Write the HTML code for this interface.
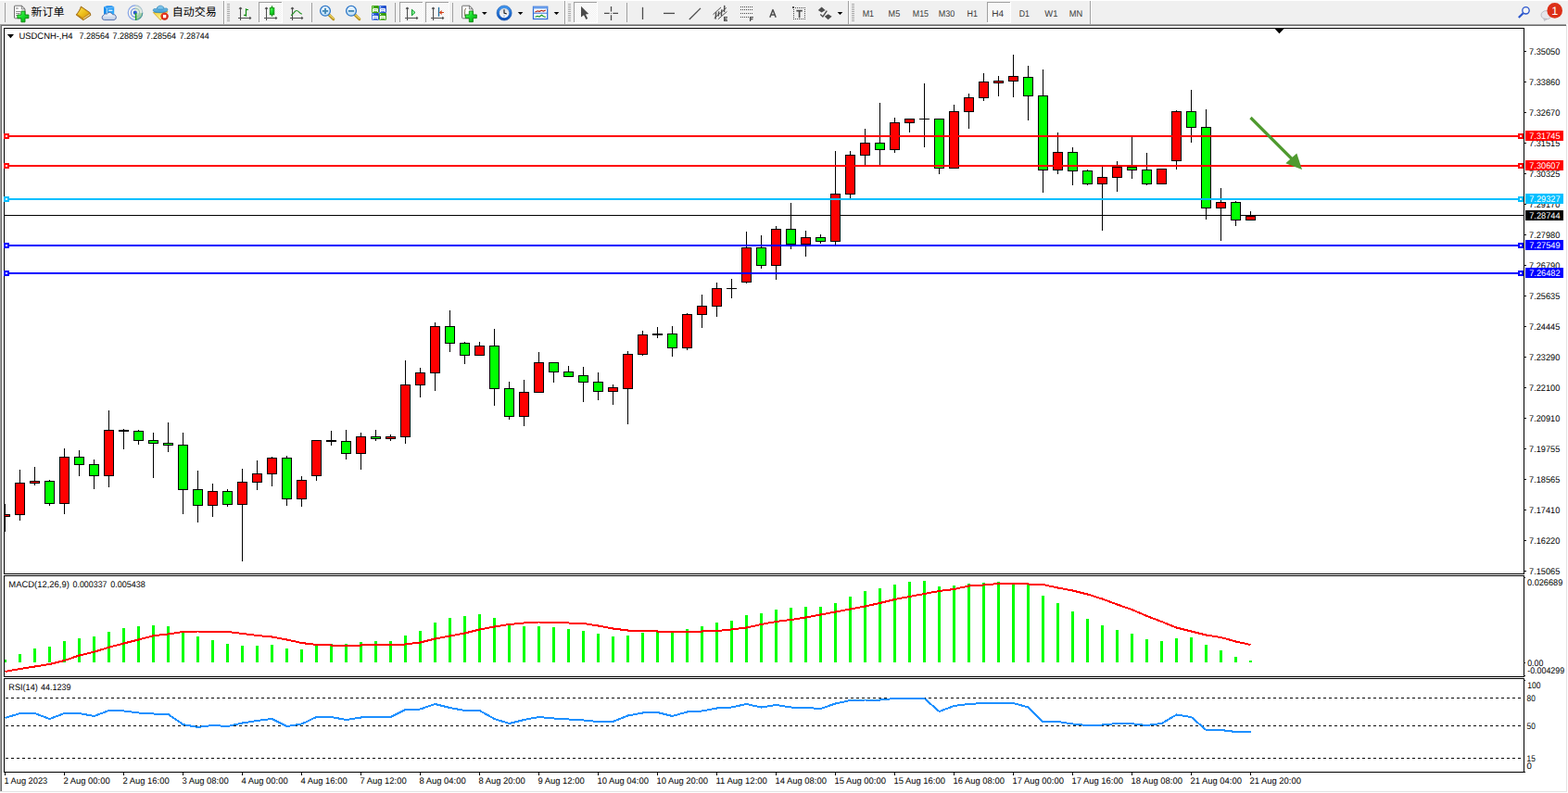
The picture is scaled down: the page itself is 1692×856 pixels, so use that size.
<!DOCTYPE html>
<html><head><meta charset="utf-8"><title>USDCNH H4</title>
<style>html,body{margin:0;padding:0;background:#fff;overflow:hidden}body{width:1692px;height:856px;position:relative}</style></head>
<body>
<svg width="1692" height="856" viewBox="0 0 1692 856" style="position:absolute;left:0;top:0;font-family:'Liberation Sans',sans-serif" shape-rendering="crispEdges" text-rendering="geometricPrecision">
<rect x="0" y="0" width="1692" height="856" fill="#fff"/>
<rect x="0" y="1" width="1692" height="25" fill="#f0f0f0"/>
<rect x="0" y="26" width="1690" height="1" fill="#a0a0a0"/>
<rect x="0" y="27" width="1690" height="1" fill="#696969"/>
<rect x="0" y="27" width="1" height="827" fill="#a0a0a0"/>
<rect x="1" y="28" width="1" height="826" fill="#696969"/>
<rect x="0" y="854" width="1691" height="1" fill="#e3e3e3"/>
<rect x="1690" y="27" width="1" height="828" fill="#e3e3e3"/>
<rect x="4" y="30" width="1641" height="1" fill="#000"/>
<rect x="4" y="30" width="1" height="804" fill="#000"/>
<rect x="1644" y="30" width="1" height="804" fill="#000"/>
<rect x="4" y="619" width="1641" height="1" fill="#000"/>
<rect x="4" y="621" width="1641" height="1" fill="#000"/>
<rect x="4" y="730" width="1641" height="1" fill="#000"/>
<rect x="4" y="732" width="1641" height="1" fill="#000"/>
<rect x="4" y="833" width="1641" height="1" fill="#000"/>
<rect x="4" y="620" width="1641" height="1" fill="#fff"/>
<rect x="4" y="731" width="1641" height="1" fill="#fff"/>
<rect x="5" y="232" width="1639" height="1" fill="#000"/>
<rect x="5" y="544" width="1" height="30" fill="#000"/>
<rect x="5" y="555" width="6" height="3" fill="#000"/>
<rect x="5" y="556" width="5" height="1" fill="#ff0000"/>
<rect x="21" y="507" width="1" height="55" fill="#000"/>
<rect x="16" y="521" width="11" height="35" fill="#000"/>
<rect x="17" y="522" width="9" height="33" fill="#ff0000"/>
<rect x="37" y="504" width="1" height="20" fill="#000"/>
<rect x="32" y="519" width="11" height="3" fill="#000"/>
<rect x="33" y="520" width="9" height="1" fill="#ff0000"/>
<rect x="53" y="518" width="1" height="28" fill="#000"/>
<rect x="48" y="519" width="11" height="25" fill="#000"/>
<rect x="49" y="520" width="9" height="23" fill="#00ff00"/>
<rect x="69" y="484" width="1" height="71" fill="#000"/>
<rect x="64" y="493" width="11" height="51" fill="#000"/>
<rect x="65" y="494" width="9" height="49" fill="#ff0000"/>
<rect x="85" y="486" width="1" height="28" fill="#000"/>
<rect x="80" y="493" width="11" height="9" fill="#000"/>
<rect x="81" y="494" width="9" height="7" fill="#00ff00"/>
<rect x="101" y="496" width="1" height="32" fill="#000"/>
<rect x="96" y="501" width="11" height="13" fill="#000"/>
<rect x="97" y="502" width="9" height="11" fill="#00ff00"/>
<rect x="117" y="443" width="1" height="83" fill="#000"/>
<rect x="112" y="464" width="11" height="50" fill="#000"/>
<rect x="113" y="465" width="9" height="48" fill="#ff0000"/>
<rect x="133" y="463" width="1" height="22" fill="#000"/>
<rect x="128" y="464" width="11" height="2" fill="#000"/>
<rect x="149" y="464" width="1" height="16" fill="#000"/>
<rect x="144" y="465" width="11" height="11" fill="#000"/>
<rect x="145" y="466" width="9" height="9" fill="#00ff00"/>
<rect x="165" y="467" width="1" height="49" fill="#000"/>
<rect x="160" y="475" width="11" height="4" fill="#000"/>
<rect x="161" y="476" width="9" height="2" fill="#00ff00"/>
<rect x="181" y="456" width="1" height="32" fill="#000"/>
<rect x="176" y="478" width="11" height="3" fill="#000"/>
<rect x="177" y="479" width="9" height="1" fill="#00ff00"/>
<rect x="197" y="467" width="1" height="88" fill="#000"/>
<rect x="192" y="480" width="11" height="49" fill="#000"/>
<rect x="193" y="481" width="9" height="47" fill="#00ff00"/>
<rect x="213" y="508" width="1" height="56" fill="#000"/>
<rect x="208" y="528" width="11" height="18" fill="#000"/>
<rect x="209" y="529" width="9" height="16" fill="#00ff00"/>
<rect x="229" y="522" width="1" height="36" fill="#000"/>
<rect x="224" y="530" width="11" height="16" fill="#000"/>
<rect x="225" y="531" width="9" height="14" fill="#ff0000"/>
<rect x="245" y="528" width="1" height="19" fill="#000"/>
<rect x="240" y="530" width="11" height="15" fill="#000"/>
<rect x="241" y="531" width="9" height="13" fill="#00ff00"/>
<rect x="261" y="506" width="1" height="100" fill="#000"/>
<rect x="256" y="520" width="11" height="25" fill="#000"/>
<rect x="257" y="521" width="9" height="23" fill="#ff0000"/>
<rect x="277" y="497" width="1" height="32" fill="#000"/>
<rect x="272" y="511" width="11" height="10" fill="#000"/>
<rect x="273" y="512" width="9" height="8" fill="#ff0000"/>
<rect x="293" y="493" width="1" height="32" fill="#000"/>
<rect x="288" y="494" width="11" height="18" fill="#000"/>
<rect x="289" y="495" width="9" height="16" fill="#ff0000"/>
<rect x="309" y="492" width="1" height="54" fill="#000"/>
<rect x="304" y="494" width="11" height="45" fill="#000"/>
<rect x="305" y="495" width="9" height="43" fill="#00ff00"/>
<rect x="325" y="514" width="1" height="33" fill="#000"/>
<rect x="320" y="518" width="11" height="21" fill="#000"/>
<rect x="321" y="519" width="9" height="19" fill="#ff0000"/>
<rect x="341" y="475" width="1" height="44" fill="#000"/>
<rect x="336" y="475" width="11" height="39" fill="#000"/>
<rect x="337" y="476" width="9" height="37" fill="#ff0000"/>
<rect x="357" y="465" width="1" height="16" fill="#000"/>
<rect x="352" y="475" width="11" height="2" fill="#000"/>
<rect x="373" y="464" width="1" height="32" fill="#000"/>
<rect x="368" y="476" width="11" height="14" fill="#000"/>
<rect x="369" y="477" width="9" height="12" fill="#00ff00"/>
<rect x="389" y="467" width="1" height="40" fill="#000"/>
<rect x="384" y="471" width="11" height="19" fill="#000"/>
<rect x="385" y="472" width="9" height="17" fill="#ff0000"/>
<rect x="405" y="464" width="1" height="12" fill="#000"/>
<rect x="400" y="471" width="11" height="3" fill="#000"/>
<rect x="401" y="472" width="9" height="1" fill="#00ff00"/>
<rect x="421" y="469" width="1" height="7" fill="#000"/>
<rect x="416" y="471" width="11" height="3" fill="#000"/>
<rect x="417" y="472" width="9" height="1" fill="#ff0000"/>
<rect x="437" y="389" width="1" height="90" fill="#000"/>
<rect x="432" y="415" width="11" height="57" fill="#000"/>
<rect x="433" y="416" width="9" height="55" fill="#ff0000"/>
<rect x="453" y="397" width="1" height="32" fill="#000"/>
<rect x="448" y="402" width="11" height="14" fill="#000"/>
<rect x="449" y="403" width="9" height="12" fill="#ff0000"/>
<rect x="469" y="348" width="1" height="74" fill="#000"/>
<rect x="464" y="352" width="11" height="51" fill="#000"/>
<rect x="465" y="353" width="9" height="49" fill="#ff0000"/>
<rect x="485" y="335" width="1" height="45" fill="#000"/>
<rect x="480" y="352" width="11" height="19" fill="#000"/>
<rect x="481" y="353" width="9" height="17" fill="#00ff00"/>
<rect x="501" y="369" width="1" height="24" fill="#000"/>
<rect x="496" y="370" width="11" height="14" fill="#000"/>
<rect x="497" y="371" width="9" height="12" fill="#00ff00"/>
<rect x="517" y="369" width="1" height="15" fill="#000"/>
<rect x="512" y="373" width="11" height="11" fill="#000"/>
<rect x="513" y="374" width="9" height="9" fill="#ff0000"/>
<rect x="533" y="355" width="1" height="83" fill="#000"/>
<rect x="528" y="373" width="11" height="47" fill="#000"/>
<rect x="529" y="374" width="9" height="45" fill="#00ff00"/>
<rect x="549" y="412" width="1" height="41" fill="#000"/>
<rect x="544" y="419" width="11" height="31" fill="#000"/>
<rect x="545" y="420" width="9" height="29" fill="#00ff00"/>
<rect x="565" y="410" width="1" height="50" fill="#000"/>
<rect x="560" y="423" width="11" height="27" fill="#000"/>
<rect x="561" y="424" width="9" height="25" fill="#ff0000"/>
<rect x="581" y="380" width="1" height="44" fill="#000"/>
<rect x="576" y="391" width="11" height="33" fill="#000"/>
<rect x="577" y="392" width="9" height="31" fill="#ff0000"/>
<rect x="597" y="391" width="1" height="22" fill="#000"/>
<rect x="592" y="391" width="11" height="11" fill="#000"/>
<rect x="593" y="392" width="9" height="9" fill="#00ff00"/>
<rect x="613" y="395" width="1" height="12" fill="#000"/>
<rect x="608" y="401" width="11" height="6" fill="#000"/>
<rect x="609" y="402" width="9" height="4" fill="#00ff00"/>
<rect x="629" y="396" width="1" height="38" fill="#000"/>
<rect x="624" y="405" width="11" height="8" fill="#000"/>
<rect x="625" y="406" width="9" height="6" fill="#00ff00"/>
<rect x="645" y="402" width="1" height="30" fill="#000"/>
<rect x="640" y="412" width="11" height="11" fill="#000"/>
<rect x="641" y="413" width="9" height="9" fill="#00ff00"/>
<rect x="661" y="415" width="1" height="22" fill="#000"/>
<rect x="656" y="418" width="11" height="5" fill="#000"/>
<rect x="657" y="419" width="9" height="3" fill="#ff0000"/>
<rect x="677" y="379" width="1" height="79" fill="#000"/>
<rect x="672" y="382" width="11" height="38" fill="#000"/>
<rect x="673" y="383" width="9" height="36" fill="#ff0000"/>
<rect x="693" y="357" width="1" height="27" fill="#000"/>
<rect x="688" y="361" width="11" height="22" fill="#000"/>
<rect x="689" y="362" width="9" height="20" fill="#ff0000"/>
<rect x="709" y="353" width="1" height="12" fill="#000"/>
<rect x="704" y="360" width="11" height="2" fill="#000"/>
<rect x="725" y="352" width="1" height="33" fill="#000"/>
<rect x="720" y="360" width="11" height="16" fill="#000"/>
<rect x="721" y="361" width="9" height="14" fill="#00ff00"/>
<rect x="741" y="338" width="1" height="40" fill="#000"/>
<rect x="736" y="339" width="11" height="37" fill="#000"/>
<rect x="737" y="340" width="9" height="35" fill="#ff0000"/>
<rect x="757" y="318" width="1" height="36" fill="#000"/>
<rect x="752" y="330" width="11" height="10" fill="#000"/>
<rect x="753" y="331" width="9" height="8" fill="#ff0000"/>
<rect x="773" y="305" width="1" height="37" fill="#000"/>
<rect x="768" y="311" width="11" height="20" fill="#000"/>
<rect x="769" y="312" width="9" height="18" fill="#ff0000"/>
<rect x="789" y="301" width="1" height="21" fill="#000"/>
<rect x="784" y="311" width="11" height="1" fill="#000"/>
<rect x="805" y="250" width="1" height="56" fill="#000"/>
<rect x="800" y="267" width="11" height="38" fill="#000"/>
<rect x="801" y="268" width="9" height="36" fill="#ff0000"/>
<rect x="821" y="254" width="1" height="36" fill="#000"/>
<rect x="816" y="267" width="11" height="20" fill="#000"/>
<rect x="817" y="268" width="9" height="18" fill="#00ff00"/>
<rect x="837" y="244" width="1" height="58" fill="#000"/>
<rect x="832" y="247" width="11" height="40" fill="#000"/>
<rect x="833" y="248" width="9" height="38" fill="#ff0000"/>
<rect x="853" y="219" width="1" height="50" fill="#000"/>
<rect x="848" y="247" width="11" height="17" fill="#000"/>
<rect x="849" y="248" width="9" height="15" fill="#00ff00"/>
<rect x="869" y="249" width="1" height="28" fill="#000"/>
<rect x="864" y="256" width="11" height="8" fill="#000"/>
<rect x="865" y="257" width="9" height="6" fill="#ff0000"/>
<rect x="885" y="253" width="1" height="10" fill="#000"/>
<rect x="880" y="256" width="11" height="5" fill="#000"/>
<rect x="881" y="257" width="9" height="3" fill="#00ff00"/>
<rect x="901" y="163" width="1" height="101" fill="#000"/>
<rect x="896" y="209" width="11" height="52" fill="#000"/>
<rect x="897" y="210" width="9" height="50" fill="#ff0000"/>
<rect x="917" y="163" width="1" height="51" fill="#000"/>
<rect x="912" y="167" width="11" height="43" fill="#000"/>
<rect x="913" y="168" width="9" height="41" fill="#ff0000"/>
<rect x="933" y="139" width="1" height="39" fill="#000"/>
<rect x="928" y="154" width="11" height="14" fill="#000"/>
<rect x="929" y="155" width="9" height="12" fill="#ff0000"/>
<rect x="949" y="111" width="1" height="67" fill="#000"/>
<rect x="944" y="154" width="11" height="8" fill="#000"/>
<rect x="945" y="155" width="9" height="6" fill="#00ff00"/>
<rect x="965" y="127" width="1" height="38" fill="#000"/>
<rect x="960" y="132" width="11" height="30" fill="#000"/>
<rect x="961" y="133" width="9" height="28" fill="#ff0000"/>
<rect x="981" y="128" width="1" height="15" fill="#000"/>
<rect x="976" y="128" width="11" height="5" fill="#000"/>
<rect x="977" y="129" width="9" height="3" fill="#ff0000"/>
<rect x="997" y="90" width="1" height="69" fill="#000"/>
<rect x="992" y="128" width="11" height="1" fill="#000"/>
<rect x="1013" y="128" width="1" height="60" fill="#000"/>
<rect x="1008" y="128" width="11" height="54" fill="#000"/>
<rect x="1009" y="129" width="9" height="52" fill="#00ff00"/>
<rect x="1029" y="113" width="1" height="69" fill="#000"/>
<rect x="1024" y="120" width="11" height="62" fill="#000"/>
<rect x="1025" y="121" width="9" height="60" fill="#ff0000"/>
<rect x="1045" y="101" width="1" height="38" fill="#000"/>
<rect x="1040" y="105" width="11" height="16" fill="#000"/>
<rect x="1041" y="106" width="9" height="14" fill="#ff0000"/>
<rect x="1061" y="79" width="1" height="30" fill="#000"/>
<rect x="1056" y="88" width="11" height="18" fill="#000"/>
<rect x="1057" y="89" width="9" height="16" fill="#ff0000"/>
<rect x="1077" y="82" width="1" height="22" fill="#000"/>
<rect x="1072" y="87" width="11" height="3" fill="#000"/>
<rect x="1073" y="88" width="9" height="1" fill="#ff0000"/>
<rect x="1093" y="59" width="1" height="46" fill="#000"/>
<rect x="1088" y="82" width="11" height="6" fill="#000"/>
<rect x="1089" y="83" width="9" height="4" fill="#ff0000"/>
<rect x="1109" y="71" width="1" height="59" fill="#000"/>
<rect x="1104" y="83" width="11" height="21" fill="#000"/>
<rect x="1105" y="84" width="9" height="19" fill="#00ff00"/>
<rect x="1125" y="75" width="1" height="133" fill="#000"/>
<rect x="1120" y="103" width="11" height="81" fill="#000"/>
<rect x="1121" y="104" width="9" height="79" fill="#00ff00"/>
<rect x="1141" y="143" width="1" height="45" fill="#000"/>
<rect x="1136" y="164" width="11" height="20" fill="#000"/>
<rect x="1137" y="165" width="9" height="18" fill="#ff0000"/>
<rect x="1157" y="159" width="1" height="41" fill="#000"/>
<rect x="1152" y="164" width="11" height="21" fill="#000"/>
<rect x="1153" y="165" width="9" height="19" fill="#00ff00"/>
<rect x="1173" y="183" width="1" height="17" fill="#000"/>
<rect x="1168" y="184" width="11" height="15" fill="#000"/>
<rect x="1169" y="185" width="9" height="13" fill="#00ff00"/>
<rect x="1189" y="180" width="1" height="69" fill="#000"/>
<rect x="1184" y="191" width="11" height="8" fill="#000"/>
<rect x="1185" y="192" width="9" height="6" fill="#ff0000"/>
<rect x="1205" y="174" width="1" height="33" fill="#000"/>
<rect x="1200" y="180" width="11" height="12" fill="#000"/>
<rect x="1201" y="181" width="9" height="10" fill="#ff0000"/>
<rect x="1221" y="148" width="1" height="45" fill="#000"/>
<rect x="1216" y="180" width="11" height="4" fill="#000"/>
<rect x="1217" y="181" width="9" height="2" fill="#00ff00"/>
<rect x="1237" y="165" width="1" height="35" fill="#000"/>
<rect x="1232" y="183" width="11" height="16" fill="#000"/>
<rect x="1233" y="184" width="9" height="14" fill="#00ff00"/>
<rect x="1253" y="182" width="1" height="17" fill="#000"/>
<rect x="1248" y="182" width="11" height="17" fill="#000"/>
<rect x="1249" y="183" width="9" height="15" fill="#ff0000"/>
<rect x="1269" y="119" width="1" height="64" fill="#000"/>
<rect x="1264" y="120" width="11" height="54" fill="#000"/>
<rect x="1265" y="121" width="9" height="52" fill="#ff0000"/>
<rect x="1285" y="97" width="1" height="57" fill="#000"/>
<rect x="1280" y="120" width="11" height="18" fill="#000"/>
<rect x="1281" y="121" width="9" height="16" fill="#00ff00"/>
<rect x="1301" y="118" width="1" height="119" fill="#000"/>
<rect x="1296" y="137" width="11" height="88" fill="#000"/>
<rect x="1297" y="138" width="9" height="86" fill="#00ff00"/>
<rect x="1317" y="203" width="1" height="57" fill="#000"/>
<rect x="1312" y="218" width="11" height="7" fill="#000"/>
<rect x="1313" y="219" width="9" height="5" fill="#ff0000"/>
<rect x="1333" y="217" width="1" height="27" fill="#000"/>
<rect x="1328" y="218" width="11" height="20" fill="#000"/>
<rect x="1329" y="219" width="9" height="18" fill="#00ff00"/>
<rect x="1349" y="228" width="1" height="10" fill="#000"/>
<rect x="1344" y="233" width="11" height="5" fill="#000"/>
<rect x="1345" y="234" width="9" height="3" fill="#ff0000"/>
<rect x="1645" y="55" width="2" height="1" fill="#000"/>
<text x="1650.1" y="59" font-size="9.6" fill="#000" textLength="33.2" lengthAdjust="spacingAndGlyphs">7.35050</text>
<rect x="1645" y="88" width="2" height="1" fill="#000"/>
<text x="1650.1" y="92" font-size="9.6" fill="#000" textLength="33.2" lengthAdjust="spacingAndGlyphs">7.33860</text>
<rect x="1645" y="121" width="2" height="1" fill="#000"/>
<text x="1650.1" y="125" font-size="9.6" fill="#000" textLength="33.2" lengthAdjust="spacingAndGlyphs">7.32670</text>
<rect x="1645" y="154" width="2" height="1" fill="#000"/>
<text x="1650.1" y="158" font-size="9.6" fill="#000" textLength="33.2" lengthAdjust="spacingAndGlyphs">7.31515</text>
<rect x="1645" y="187" width="2" height="1" fill="#000"/>
<text x="1650.1" y="191" font-size="9.6" fill="#000" textLength="33.2" lengthAdjust="spacingAndGlyphs">7.30325</text>
<rect x="1645" y="220" width="2" height="1" fill="#000"/>
<text x="1650.1" y="224" font-size="9.6" fill="#000" textLength="33.2" lengthAdjust="spacingAndGlyphs">7.29170</text>
<rect x="1645" y="253" width="2" height="1" fill="#000"/>
<text x="1650.1" y="257" font-size="9.6" fill="#000" textLength="33.2" lengthAdjust="spacingAndGlyphs">7.27980</text>
<rect x="1645" y="286" width="2" height="1" fill="#000"/>
<text x="1650.1" y="290" font-size="9.6" fill="#000" textLength="33.2" lengthAdjust="spacingAndGlyphs">7.26790</text>
<rect x="1645" y="319" width="2" height="1" fill="#000"/>
<text x="1650.1" y="323" font-size="9.6" fill="#000" textLength="33.2" lengthAdjust="spacingAndGlyphs">7.25635</text>
<rect x="1645" y="352" width="2" height="1" fill="#000"/>
<text x="1650.1" y="356" font-size="9.6" fill="#000" textLength="33.2" lengthAdjust="spacingAndGlyphs">7.24445</text>
<rect x="1645" y="385" width="2" height="1" fill="#000"/>
<text x="1650.1" y="389" font-size="9.6" fill="#000" textLength="33.2" lengthAdjust="spacingAndGlyphs">7.23290</text>
<rect x="1645" y="418" width="2" height="1" fill="#000"/>
<text x="1650.1" y="422" font-size="9.6" fill="#000" textLength="33.2" lengthAdjust="spacingAndGlyphs">7.22100</text>
<rect x="1645" y="451" width="2" height="1" fill="#000"/>
<text x="1650.1" y="455" font-size="9.6" fill="#000" textLength="33.2" lengthAdjust="spacingAndGlyphs">7.20910</text>
<rect x="1645" y="484" width="2" height="1" fill="#000"/>
<text x="1650.1" y="488" font-size="9.6" fill="#000" textLength="33.2" lengthAdjust="spacingAndGlyphs">7.19755</text>
<rect x="1645" y="517" width="2" height="1" fill="#000"/>
<text x="1650.1" y="521" font-size="9.6" fill="#000" textLength="33.2" lengthAdjust="spacingAndGlyphs">7.18565</text>
<rect x="1645" y="550" width="2" height="1" fill="#000"/>
<text x="1650.1" y="554" font-size="9.6" fill="#000" textLength="33.2" lengthAdjust="spacingAndGlyphs">7.17410</text>
<rect x="1645" y="583" width="2" height="1" fill="#000"/>
<text x="1650.1" y="587" font-size="9.6" fill="#000" textLength="33.2" lengthAdjust="spacingAndGlyphs">7.16220</text>
<rect x="1645" y="616" width="2" height="1" fill="#000"/>
<text x="1650.1" y="620" font-size="9.6" fill="#000" textLength="33.2" lengthAdjust="spacingAndGlyphs">7.15065</text>
<rect x="5" y="146" width="1634" height="2" fill="#ff0000"/>
<rect x="1638" y="144" width="6" height="6" fill="#ff0000"/>
<rect x="1640" y="146" width="2" height="2" fill="#fff"/>
<rect x="4" y="144" width="6" height="6" fill="#ff0000"/>
<rect x="6" y="146" width="2" height="2" fill="#fff"/>
<rect x="1646" y="141" width="41" height="11" fill="#ff0000"/>
<text x="1650.2" y="150" font-size="9.6" fill="#fff" textLength="33.4" lengthAdjust="spacingAndGlyphs">7.31745</text>
<rect x="5" y="178" width="1634" height="2" fill="#ff0000"/>
<rect x="1638" y="176" width="6" height="6" fill="#ff0000"/>
<rect x="1640" y="178" width="2" height="2" fill="#fff"/>
<rect x="4" y="176" width="6" height="6" fill="#ff0000"/>
<rect x="6" y="178" width="2" height="2" fill="#fff"/>
<rect x="1646" y="173" width="41" height="11" fill="#ff0000"/>
<text x="1650.2" y="182" font-size="9.6" fill="#fff" textLength="33.4" lengthAdjust="spacingAndGlyphs">7.30607</text>
<rect x="5" y="214" width="1634" height="2" fill="#00bfff"/>
<rect x="1638" y="212" width="6" height="6" fill="#00bfff"/>
<rect x="1640" y="214" width="2" height="2" fill="#fff"/>
<rect x="4" y="212" width="6" height="6" fill="#00bfff"/>
<rect x="6" y="214" width="2" height="2" fill="#fff"/>
<rect x="1646" y="209" width="41" height="11" fill="#00bfff"/>
<text x="1650.2" y="218" font-size="9.6" fill="#fff" textLength="33.4" lengthAdjust="spacingAndGlyphs">7.29327</text>
<rect x="5" y="264" width="1634" height="2" fill="#0000ff"/>
<rect x="1638" y="262" width="6" height="6" fill="#0000ff"/>
<rect x="1640" y="264" width="2" height="2" fill="#fff"/>
<rect x="4" y="262" width="6" height="6" fill="#0000ff"/>
<rect x="6" y="264" width="2" height="2" fill="#fff"/>
<rect x="1646" y="259" width="41" height="11" fill="#0000ff"/>
<text x="1650.2" y="268" font-size="9.6" fill="#fff" textLength="33.4" lengthAdjust="spacingAndGlyphs">7.27549</text>
<rect x="5" y="294" width="1634" height="2" fill="#0000ff"/>
<rect x="1638" y="292" width="6" height="6" fill="#0000ff"/>
<rect x="1640" y="294" width="2" height="2" fill="#fff"/>
<rect x="4" y="292" width="6" height="6" fill="#0000ff"/>
<rect x="6" y="294" width="2" height="2" fill="#fff"/>
<rect x="1646" y="289" width="41" height="11" fill="#0000ff"/>
<text x="1650.2" y="298" font-size="9.6" fill="#fff" textLength="33.4" lengthAdjust="spacingAndGlyphs">7.26482</text>
<rect x="1646" y="227" width="41" height="11" fill="#000"/>
<text x="1650.2" y="236" font-size="9.6" fill="#fff" textLength="33.4" lengthAdjust="spacingAndGlyphs">7.28744</text>
<g shape-rendering="geometricPrecision"><line x1="1349.5" y1="127" x2="1394" y2="171.5" stroke="#4f9a2f" stroke-width="3.2"/><polygon points="1405,183 1387.3,176.3 1399.3,165.6" fill="#4f9a2f"/></g>
<polygon points="1375.6,31 1385.5,31 1380.5,36.3" fill="#000" shape-rendering="geometricPrecision"/>
<polygon points="7.8,37 15,37 11.4,41.3" fill="#000" shape-rendering="geometricPrecision"/>
<text x="20.5" y="42" font-size="9.6" fill="#000" textLength="58" lengthAdjust="spacingAndGlyphs">USDCNH-,H4</text>
<text x="85.6" y="42" font-size="9.6" fill="#000" textLength="32.4" lengthAdjust="spacingAndGlyphs">7.28564</text>
<text x="121.5" y="42" font-size="9.6" fill="#000" textLength="32.4" lengthAdjust="spacingAndGlyphs">7.28859</text>
<text x="157.5" y="42" font-size="9.6" fill="#000" textLength="32.4" lengthAdjust="spacingAndGlyphs">7.28564</text>
<text x="193.7" y="42" font-size="9.6" fill="#000" textLength="32" lengthAdjust="spacingAndGlyphs">7.28744</text>
<rect x="5" y="712" width="2" height="3" fill="#00ff00"/>
<rect x="20" y="706" width="3" height="9" fill="#00ff00"/>
<rect x="36" y="700" width="3" height="15" fill="#00ff00"/>
<rect x="52" y="698" width="3" height="17" fill="#00ff00"/>
<rect x="68" y="692" width="3" height="23" fill="#00ff00"/>
<rect x="84" y="689" width="3" height="26" fill="#00ff00"/>
<rect x="100" y="687" width="3" height="28" fill="#00ff00"/>
<rect x="116" y="682" width="3" height="33" fill="#00ff00"/>
<rect x="132" y="678" width="3" height="37" fill="#00ff00"/>
<rect x="148" y="676" width="3" height="39" fill="#00ff00"/>
<rect x="164" y="675" width="3" height="40" fill="#00ff00"/>
<rect x="180" y="676" width="3" height="39" fill="#00ff00"/>
<rect x="196" y="682" width="3" height="33" fill="#00ff00"/>
<rect x="212" y="687" width="3" height="28" fill="#00ff00"/>
<rect x="228" y="691" width="3" height="24" fill="#00ff00"/>
<rect x="244" y="695" width="3" height="20" fill="#00ff00"/>
<rect x="260" y="697" width="3" height="18" fill="#00ff00"/>
<rect x="276" y="697" width="3" height="18" fill="#00ff00"/>
<rect x="292" y="696" width="3" height="19" fill="#00ff00"/>
<rect x="308" y="700" width="3" height="15" fill="#00ff00"/>
<rect x="324" y="701" width="3" height="14" fill="#00ff00"/>
<rect x="340" y="697" width="3" height="18" fill="#00ff00"/>
<rect x="356" y="695" width="3" height="20" fill="#00ff00"/>
<rect x="372" y="695" width="3" height="20" fill="#00ff00"/>
<rect x="388" y="693" width="3" height="22" fill="#00ff00"/>
<rect x="404" y="692" width="3" height="23" fill="#00ff00"/>
<rect x="420" y="692" width="3" height="23" fill="#00ff00"/>
<rect x="436" y="686" width="3" height="29" fill="#00ff00"/>
<rect x="452" y="681" width="3" height="34" fill="#00ff00"/>
<rect x="468" y="672" width="3" height="43" fill="#00ff00"/>
<rect x="484" y="667" width="3" height="48" fill="#00ff00"/>
<rect x="500" y="665" width="3" height="50" fill="#00ff00"/>
<rect x="516" y="663" width="3" height="52" fill="#00ff00"/>
<rect x="532" y="667" width="3" height="48" fill="#00ff00"/>
<rect x="548" y="673" width="3" height="42" fill="#00ff00"/>
<rect x="564" y="676" width="3" height="39" fill="#00ff00"/>
<rect x="580" y="676" width="3" height="39" fill="#00ff00"/>
<rect x="596" y="677" width="3" height="38" fill="#00ff00"/>
<rect x="612" y="679" width="3" height="36" fill="#00ff00"/>
<rect x="628" y="681" width="3" height="34" fill="#00ff00"/>
<rect x="644" y="684" width="3" height="31" fill="#00ff00"/>
<rect x="660" y="687" width="3" height="28" fill="#00ff00"/>
<rect x="676" y="686" width="3" height="29" fill="#00ff00"/>
<rect x="692" y="683" width="3" height="32" fill="#00ff00"/>
<rect x="708" y="682" width="3" height="33" fill="#00ff00"/>
<rect x="724" y="682" width="3" height="33" fill="#00ff00"/>
<rect x="740" y="679" width="3" height="36" fill="#00ff00"/>
<rect x="756" y="676" width="3" height="39" fill="#00ff00"/>
<rect x="772" y="672" width="3" height="43" fill="#00ff00"/>
<rect x="788" y="670" width="3" height="45" fill="#00ff00"/>
<rect x="804" y="664" width="3" height="51" fill="#00ff00"/>
<rect x="820" y="662" width="3" height="53" fill="#00ff00"/>
<rect x="836" y="658" width="3" height="57" fill="#00ff00"/>
<rect x="852" y="656" width="3" height="59" fill="#00ff00"/>
<rect x="868" y="655" width="3" height="60" fill="#00ff00"/>
<rect x="884" y="655" width="3" height="60" fill="#00ff00"/>
<rect x="900" y="651" width="3" height="64" fill="#00ff00"/>
<rect x="916" y="644" width="3" height="71" fill="#00ff00"/>
<rect x="932" y="638" width="3" height="77" fill="#00ff00"/>
<rect x="948" y="635" width="3" height="80" fill="#00ff00"/>
<rect x="964" y="631" width="3" height="84" fill="#00ff00"/>
<rect x="980" y="628" width="3" height="87" fill="#00ff00"/>
<rect x="996" y="627" width="3" height="88" fill="#00ff00"/>
<rect x="1012" y="633" width="3" height="82" fill="#00ff00"/>
<rect x="1028" y="632" width="3" height="83" fill="#00ff00"/>
<rect x="1044" y="630" width="3" height="85" fill="#00ff00"/>
<rect x="1060" y="629" width="3" height="86" fill="#00ff00"/>
<rect x="1076" y="628" width="3" height="87" fill="#00ff00"/>
<rect x="1092" y="630" width="3" height="85" fill="#00ff00"/>
<rect x="1108" y="631" width="3" height="84" fill="#00ff00"/>
<rect x="1124" y="643" width="3" height="72" fill="#00ff00"/>
<rect x="1140" y="651" width="3" height="64" fill="#00ff00"/>
<rect x="1156" y="660" width="3" height="55" fill="#00ff00"/>
<rect x="1172" y="668" width="3" height="47" fill="#00ff00"/>
<rect x="1188" y="675" width="3" height="40" fill="#00ff00"/>
<rect x="1204" y="680" width="3" height="35" fill="#00ff00"/>
<rect x="1220" y="684" width="3" height="31" fill="#00ff00"/>
<rect x="1236" y="690" width="3" height="25" fill="#00ff00"/>
<rect x="1252" y="692" width="3" height="23" fill="#00ff00"/>
<rect x="1268" y="689" width="3" height="26" fill="#00ff00"/>
<rect x="1284" y="688" width="3" height="27" fill="#00ff00"/>
<rect x="1300" y="696" width="3" height="19" fill="#00ff00"/>
<rect x="1316" y="702" width="3" height="13" fill="#00ff00"/>
<rect x="1332" y="709" width="3" height="6" fill="#00ff00"/>
<rect x="1348" y="713" width="3" height="2" fill="#00ff00"/>
<polyline points="5.5,725 21.5,722 37.5,719.5 53.5,717 69.5,713 85.5,707.5 101.5,703.75 117.5,698.75 133.5,694.5 149.5,690.5 165.5,686.25 181.5,684.5 197.5,682 213.5,681.5 229.5,681.5 245.5,682 261.5,684 277.5,686 293.5,687.5 309.5,690.5 325.5,694 341.5,696 357.5,696.5 373.5,696.5 389.5,696.5 405.5,696 421.5,696 437.5,695.5 453.5,693.5 469.5,689.5 485.5,686.5 501.5,683.5 517.5,679.5 533.5,676.5 549.5,674 565.5,672.5 581.5,671.5 597.5,671.5 613.5,672.5 629.5,673 645.5,675.5 661.5,678.5 677.5,680.5 693.5,680.5 709.5,681.5 725.5,681.5 741.5,681.5 757.5,681.5 773.5,681 789.5,679.5 805.5,677.5 821.5,674 837.5,671 853.5,669 869.5,666.5 885.5,663.5 901.5,660.5 917.5,657.5 933.5,654.5 949.5,651 965.5,647 981.5,644 997.5,641 1013.5,638 1029.5,636 1045.5,632.5 1061.5,631.5 1077.5,630 1093.5,630 1109.5,630.5 1125.5,631 1141.5,634.5 1157.5,637.5 1173.5,641.5 1189.5,646.5 1205.5,652.5 1221.5,658 1237.5,665 1253.5,671 1269.5,677.5 1285.5,681.5 1301.5,685.5 1317.5,688 1333.5,692.5 1349.5,696" fill="none" stroke="#ff0000" stroke-width="2"/>
<text x="9.3" y="634" font-size="9.6" fill="#000" textLength="65.5" lengthAdjust="spacingAndGlyphs">MACD(12,26,9)</text>
<text x="78.5" y="634" font-size="9.6" fill="#000" textLength="37" lengthAdjust="spacingAndGlyphs">0.000337</text>
<text x="119.2" y="634" font-size="9.6" fill="#000" textLength="37.5" lengthAdjust="spacingAndGlyphs">0.005438</text>
<rect x="1645" y="623" width="1" height="1" fill="#000"/>
<text x="1648" y="632" font-size="9.6" fill="#000" textLength="38.3" lengthAdjust="spacingAndGlyphs">0.026689</text>
<rect x="1645" y="715" width="1" height="1" fill="#000"/>
<text x="1648.2" y="719" font-size="9.6" fill="#000" textLength="17.2" lengthAdjust="spacingAndGlyphs">0.00</text>
<text x="1648.2" y="727" font-size="9.6" fill="#000" textLength="40" lengthAdjust="spacingAndGlyphs">-0.004299</text>
<rect x="1645" y="729" width="1" height="1" fill="#000"/>
<rect x="1645" y="734" width="1" height="1" fill="#000"/>
<rect x="1645" y="833" width="1" height="1" fill="#000"/>
<line x1="6" y1="753.5" x2="1642" y2="753.5" stroke="#000" stroke-width="1" stroke-dasharray="3 3"/>
<line x1="6" y1="783.5" x2="1642" y2="783.5" stroke="#000" stroke-width="1" stroke-dasharray="3 3"/>
<line x1="6" y1="818.5" x2="1642" y2="818.5" stroke="#000" stroke-width="1" stroke-dasharray="3 3"/>
<polyline points="5.5,775 21.5,770 37.5,770 53.5,776 69.5,770 85.5,770 101.5,773 117.5,767 133.5,767.5 149.5,769.5 165.5,770.5 181.5,771 197.5,782 213.5,785 229.5,783 245.5,784 261.5,780.5 277.5,778 293.5,776 309.5,784 325.5,781.5 341.5,774 357.5,774 373.5,777 389.5,774.5 405.5,774 421.5,774 437.5,766 453.5,765.5 469.5,760 485.5,764 501.5,767 517.5,767 533.5,776 549.5,781 565.5,777 581.5,774 597.5,775.5 613.5,776.5 629.5,777.5 645.5,779 661.5,779 677.5,772.5 693.5,769.5 709.5,769 725.5,773 741.5,768.5 757.5,767.5 773.5,764.5 789.5,763.5 805.5,760 821.5,763.5 837.5,761 853.5,763.5 869.5,764 885.5,765 901.5,759.5 917.5,756 933.5,755.5 949.5,755.5 965.5,754 981.5,754 997.5,754 1013.5,768 1029.5,762 1045.5,760 1061.5,759 1077.5,759 1093.5,759 1109.5,763.5 1125.5,779.5 1141.5,779 1157.5,781.5 1173.5,783 1189.5,782.5 1205.5,781 1221.5,781.25 1237.5,783 1253.5,781 1269.5,771.5 1285.5,774 1301.5,788 1317.5,788 1333.5,790 1349.5,790" fill="none" stroke="#1e90ff" stroke-width="2"/>
<text x="9.3" y="745" font-size="9.6" fill="#000" textLength="31.5" lengthAdjust="spacingAndGlyphs">RSI(14)</text>
<text x="44" y="745" font-size="9.6" fill="#000" textLength="32.6" lengthAdjust="spacingAndGlyphs">44.1239</text>
<text x="1648.2" y="743" font-size="9.6" fill="#000" textLength="14.3" lengthAdjust="spacingAndGlyphs">100</text>
<text x="1647.6" y="757" font-size="9.6" fill="#000" textLength="9.2" lengthAdjust="spacingAndGlyphs">80</text>
<text x="1647.6" y="787" font-size="9.6" fill="#000" textLength="9.2" lengthAdjust="spacingAndGlyphs">50</text>
<text x="1647.6" y="822" font-size="9.6" fill="#000" textLength="9.2" lengthAdjust="spacingAndGlyphs">15</text>
<text x="1647.6" y="830" font-size="9.6" fill="#000">0</text>
<rect x="5" y="834" width="1" height="3" fill="#000"/>
<text x="4.4" y="846" font-size="9.6" fill="#000" textLength="46.8" lengthAdjust="spacingAndGlyphs">1 Aug 2023</text>
<rect x="69" y="834" width="1" height="3" fill="#000"/>
<text x="68.4" y="846" font-size="9.6" fill="#000" textLength="50.3" lengthAdjust="spacingAndGlyphs">2 Aug 00:00</text>
<rect x="133" y="834" width="1" height="3" fill="#000"/>
<text x="132.4" y="846" font-size="9.6" fill="#000" textLength="50.3" lengthAdjust="spacingAndGlyphs">2 Aug 16:00</text>
<rect x="197" y="834" width="1" height="3" fill="#000"/>
<text x="196.4" y="846" font-size="9.6" fill="#000" textLength="50.3" lengthAdjust="spacingAndGlyphs">3 Aug 08:00</text>
<rect x="261" y="834" width="1" height="3" fill="#000"/>
<text x="260.4" y="846" font-size="9.6" fill="#000" textLength="50.3" lengthAdjust="spacingAndGlyphs">4 Aug 00:00</text>
<rect x="325" y="834" width="1" height="3" fill="#000"/>
<text x="324.4" y="846" font-size="9.6" fill="#000" textLength="50.3" lengthAdjust="spacingAndGlyphs">4 Aug 16:00</text>
<rect x="389" y="834" width="1" height="3" fill="#000"/>
<text x="388.4" y="846" font-size="9.6" fill="#000" textLength="50.3" lengthAdjust="spacingAndGlyphs">7 Aug 12:00</text>
<rect x="453" y="834" width="1" height="3" fill="#000"/>
<text x="452.4" y="846" font-size="9.6" fill="#000" textLength="50.3" lengthAdjust="spacingAndGlyphs">8 Aug 04:00</text>
<rect x="517" y="834" width="1" height="3" fill="#000"/>
<text x="516.4" y="846" font-size="9.6" fill="#000" textLength="50.3" lengthAdjust="spacingAndGlyphs">8 Aug 20:00</text>
<rect x="581" y="834" width="1" height="3" fill="#000"/>
<text x="580.4" y="846" font-size="9.6" fill="#000" textLength="50.3" lengthAdjust="spacingAndGlyphs">9 Aug 12:00</text>
<rect x="645" y="834" width="1" height="3" fill="#000"/>
<text x="644.4" y="846" font-size="9.6" fill="#000" textLength="55.5" lengthAdjust="spacingAndGlyphs">10 Aug 04:00</text>
<rect x="709" y="834" width="1" height="3" fill="#000"/>
<text x="708.4" y="846" font-size="9.6" fill="#000" textLength="55.5" lengthAdjust="spacingAndGlyphs">10 Aug 20:00</text>
<rect x="773" y="834" width="1" height="3" fill="#000"/>
<text x="772.4" y="846" font-size="9.6" fill="#000" textLength="55.5" lengthAdjust="spacingAndGlyphs">11 Aug 12:00</text>
<rect x="837" y="834" width="1" height="3" fill="#000"/>
<text x="836.4" y="846" font-size="9.6" fill="#000" textLength="55.5" lengthAdjust="spacingAndGlyphs">14 Aug 08:00</text>
<rect x="901" y="834" width="1" height="3" fill="#000"/>
<text x="900.4" y="846" font-size="9.6" fill="#000" textLength="55.5" lengthAdjust="spacingAndGlyphs">15 Aug 00:00</text>
<rect x="965" y="834" width="1" height="3" fill="#000"/>
<text x="964.4" y="846" font-size="9.6" fill="#000" textLength="55.5" lengthAdjust="spacingAndGlyphs">15 Aug 16:00</text>
<rect x="1029" y="834" width="1" height="3" fill="#000"/>
<text x="1028.4" y="846" font-size="9.6" fill="#000" textLength="55.5" lengthAdjust="spacingAndGlyphs">16 Aug 08:00</text>
<rect x="1093" y="834" width="1" height="3" fill="#000"/>
<text x="1092.4" y="846" font-size="9.6" fill="#000" textLength="55.5" lengthAdjust="spacingAndGlyphs">17 Aug 00:00</text>
<rect x="1157" y="834" width="1" height="3" fill="#000"/>
<text x="1156.4" y="846" font-size="9.6" fill="#000" textLength="55.5" lengthAdjust="spacingAndGlyphs">17 Aug 16:00</text>
<rect x="1221" y="834" width="1" height="3" fill="#000"/>
<text x="1220.4" y="846" font-size="9.6" fill="#000" textLength="55.5" lengthAdjust="spacingAndGlyphs">18 Aug 08:00</text>
<rect x="1285" y="834" width="1" height="3" fill="#000"/>
<text x="1284.4" y="846" font-size="9.6" fill="#000" textLength="55.5" lengthAdjust="spacingAndGlyphs">21 Aug 04:00</text>
<rect x="1349" y="834" width="1" height="3" fill="#000"/>
<text x="1348.4" y="846" font-size="9.6" fill="#000" textLength="55.5" lengthAdjust="spacingAndGlyphs">21 Aug 20:00</text>
<g shape-rendering="geometricPrecision"><rect x="5" y="3" width="1" height="21" fill="#a0a0a0"/><defs><pattern id="dith" width="2" height="2" patternUnits="userSpaceOnUse"><rect width="2" height="2" fill="#f0f0f0"/><rect width="1" height="1" fill="#fff"/><rect x="1" y="1" width="1" height="1" fill="#fff"/></pattern><linearGradient id="gp" x1="0" y1="0" x2="1" y2="1"><stop offset="0" stop-color="#7dff7d"/><stop offset="0.45" stop-color="#19e12d"/><stop offset="1" stop-color="#0a9e12"/></linearGradient><linearGradient id="gg" x1="0" y1="0" x2="1" y2="1"><stop offset="0" stop-color="#fbe25a"/><stop offset="0.5" stop-color="#eec11c"/><stop offset="1" stop-color="#d79a12"/></linearGradient><linearGradient id="gc" x1="0" y1="0" x2="0" y2="1"><stop offset="0" stop-color="#ffffff"/><stop offset="1" stop-color="#b9c8e2"/></linearGradient><linearGradient id="gb" x1="0" y1="0" x2="0" y2="1"><stop offset="0" stop-color="#1a8cf0"/><stop offset="1" stop-color="#39b2fb"/></linearGradient><linearGradient id="gh" x1="0" y1="0" x2="0" y2="1"><stop offset="0" stop-color="#8fd0f2"/><stop offset="1" stop-color="#3f9bd2"/></linearGradient><linearGradient id="gy" x1="0" y1="0" x2="1" y2="1"><stop offset="0" stop-color="#f2c92a"/><stop offset="0.6" stop-color="#fdf28a"/><stop offset="1" stop-color="#e0b020"/></linearGradient><radialGradient id="gr" cx="0.4" cy="0.35" r="0.75"><stop offset="0" stop-color="#f0452a"/><stop offset="1" stop-color="#c81808"/></radialGradient><linearGradient id="gs" x1="0" y1="0" x2="1" y2="1"><stop offset="0" stop-color="#dfeadf"/><stop offset="1" stop-color="#4aa84a"/></linearGradient><linearGradient id="gk" x1="0" y1="0" x2="0" y2="1"><stop offset="0" stop-color="#3d95f0"/><stop offset="1" stop-color="#0c50b8"/></linearGradient><linearGradient id="gf" x1="0" y1="0" x2="0" y2="1"><stop offset="0" stop-color="#d2d6dc"/><stop offset="1" stop-color="#ffffff"/></linearGradient><linearGradient id="gm" x1="0" y1="0" x2="0" y2="1"><stop offset="0" stop-color="#f2f9ff"/><stop offset="1" stop-color="#b8dcf5"/></linearGradient></defs><path d="M16.3 6.2h7l3.7 3.6v9.2a0.8 0.8 0 0 1 -0.8 0.8h-9.9a0.8 0.8 0 0 1 -0.8 -0.8v-12a0.8 0.8 0 0 1 0.8 -0.8z" fill="#fff" stroke="#6e6e6e" stroke-width="1"/><path d="M23.3 6.2v3.6h3.7z" fill="#fff" stroke="#6e6e6e" stroke-width="0.9"/><rect x="17.1" y="8.3" width="2.7" height="1.4" fill="#9a9a9a"/><path d="M17.1 12.5h5M17.1 14.5h4.5M17.1 16.6h2" stroke="#8e8e8e" stroke-width="1"/><path d="M22.9 12.1h4.1v3.9h3.9v3.7h-3.9v4.1h-4.1v-4.1h-4v-3.7h4z" fill="url(#gp)" stroke="#0a840a" stroke-width="0.9" stroke-linejoin="round"/><text x="33.5" y="17.2" font-size="12" fill="#000" font-family="'Liberation Sans','Noto Sans CJK SC',sans-serif" textLength="36" lengthAdjust="spacingAndGlyphs">新订单</text><path d="M87.4 7L97.1 13.7L97.9 16.4L89.8 21.7L82.1 15.9C84.6 13.4 86.2 10.6 87.4 7Z" fill="#c98e18" stroke="#9c6a12" stroke-width="0.9" stroke-linejoin="round"/><path d="M87.9 8.3L96.2 14L89.4 18.9L83.6 15.3C85.6 13 86.9 10.9 87.9 8.3Z" fill="url(#gg)"/><path d="M90 20.3L97 15.6" stroke="#efe2b0" stroke-width="1"/><path d="M112.2 7.2L115.6 6.2H120.6L123.2 7.6V15.4H112.2Z" fill="url(#gb)"/><path d="M112.2 7.2L115.2 9V15.4H112.2Z" fill="#0f86ea"/><path d="M115.2 9V15.4" stroke="#d8f0ff" stroke-width="0.9"/><path d="M112.4 7.3L115.2 9L123 8" stroke="#a8dcff" stroke-width="0.7" fill="none"/><rect x="117.2" y="10.6" width="4.2" height="1.3" fill="#e8f6ff"/><path d="M112.6 21.6a2.7 2.7 0 0 1 -0.5 -5.3a2.4 2.4 0 0 1 3.2 -1.2a3.5 3.5 0 0 1 6.2 0.6a2.9 2.9 0 0 1 1.6 5.9z" fill="url(#gc)" stroke="#4a66a6" stroke-width="0.9"/><g fill="none"><path d="M146 13.7H153.8A7.8 7.8 0 0 1 146 21.5Z" fill="url(#gs)" opacity="0.8"/><path d="M146 13.7V5.9A7.8 7.8 0 0 1 153.8 13.7Z" fill="#dde8dc" opacity="0.75"/><path d="M146 5.9A7.8 7.8 0 0 0 146 21.5" stroke="#86a4e6" stroke-width="1.2"/><path d="M146 9.1A4.6 4.6 0 0 0 146 18.3" stroke="#6f92e0" stroke-width="1.2"/><path d="M146 5.9A7.8 7.8 0 0 1 153.8 13.7" stroke="#a9c2cf" stroke-width="1.1"/><path d="M153.8 13.7A7.8 7.8 0 0 1 146 21.5" stroke="#4f97a0" stroke-width="1.2"/><path d="M146 9.1A4.6 4.6 0 0 1 150.6 13.7A4.6 4.6 0 0 1 146.8 18.2" stroke="#9cc4b0" stroke-width="1.1"/><circle cx="145.8" cy="13.7" r="2.1" fill="#2f5fd0"/><path d="M146.6 14.2V21.8" stroke="#1fa21f" stroke-width="1.5"/></g><path d="M165.3 13.5L181 12.6L173.2 21.7Z" fill="url(#gy)" stroke="#d2a218" stroke-width="0.8" stroke-linejoin="round"/><path d="M165.3 11.3C165.1 8.6 168 9.8 169.2 9.5C169.8 5 176.4 5.2 177 9.2C178.2 9.4 180.9 8 180.8 10.5C180.7 13 176.5 13.7 173 13.7C169.6 13.7 165.5 13.5 165.3 11.3Z" fill="url(#gh)" stroke="#2f86b8" stroke-width="0.8"/><path d="M169.3 9.6C171.5 11 175 11 177 9.5" stroke="#3b8fc4" stroke-width="0.7" fill="none"/><circle cx="177.6" cy="17.6" r="4.2" fill="url(#gr)"/><rect x="176" y="16" width="3.3" height="3.3" fill="#fff"/><text x="185.7" y="17.2" font-size="12" fill="#000" font-family="'Liberation Sans','Noto Sans CJK SC',sans-serif" textLength="48" lengthAdjust="spacingAndGlyphs">自动交易</text><rect x="241" y="1" width="1" height="25" fill="#a0a0a0"/><rect x="242" y="1" width="1" height="25" fill="#fff"/><rect x="245" y="4" width="3" height="1" fill="#a8a8a8"/><rect x="245" y="6" width="3" height="1" fill="#a8a8a8"/><rect x="245" y="8" width="3" height="1" fill="#a8a8a8"/><rect x="245" y="10" width="3" height="1" fill="#a8a8a8"/><rect x="245" y="12" width="3" height="1" fill="#a8a8a8"/><rect x="245" y="14" width="3" height="1" fill="#a8a8a8"/><rect x="245" y="16" width="3" height="1" fill="#a8a8a8"/><rect x="245" y="18" width="3" height="1" fill="#a8a8a8"/><rect x="245" y="20" width="3" height="1" fill="#a8a8a8"/><rect x="245" y="22" width="3" height="1" fill="#a8a8a8"/><g stroke="#4d4d4d" stroke-width="1.05" fill="none" shape-rendering="geometricPrecision" stroke-linejoin="round"><path d="M259.5 8.2V22M257.0 19.5H270.7"/><path d="M258.0 9.7L259.5 8.2L261.0 9.7M269.3 18L270.8 19.5L269.3 21"/></g><path d="M265.5 9.3V17.8M265.5 10.5H268M265.5 16.4H263.1" stroke="#0a8a0a" stroke-width="1.15" fill="none"/><g shape-rendering="crispEdges"><rect x="279" y="2" width="26" height="23" fill="url(#dith)"/><rect x="279" y="2" width="26" height="1" fill="#a0a0a0"/><rect x="279" y="2" width="1" height="22" fill="#a0a0a0"/><rect x="279" y="24" width="26" height="1" fill="#fff"/><rect x="304" y="2" width="1" height="23" fill="#fff"/></g><g stroke="#4d4d4d" stroke-width="1.05" fill="none" shape-rendering="geometricPrecision" stroke-linejoin="round"><path d="M287.5 8.2V22M285.0 19.5H298.7"/><path d="M286.0 9.7L287.5 8.2L289.0 9.7M297.3 18L298.8 19.5L297.3 21"/></g><path d="M293.5 6.3V17.8" stroke="#0a8a0a" stroke-width="1.2"/><rect x="291.3" y="8.6" width="4.5" height="7.2" fill="url(#gp)" stroke="#0a8a0a" stroke-width="0.9"/><g stroke="#4d4d4d" stroke-width="1.05" fill="none" shape-rendering="geometricPrecision" stroke-linejoin="round"><path d="M315.5 8.2V22M313.0 19.5H326.7"/><path d="M314.0 9.7L315.5 8.2L317.0 9.7M325.3 18L326.8 19.5L325.3 21"/></g><path d="M314.1 16.6C316 15.6 317.5 12.6 319.2 11.7C320.6 11 321.6 11.9 322.8 13.2C323.8 14.3 324.8 15 325.8 15.2" stroke="#2a962a" stroke-width="1.2" fill="none"/><rect x="336" y="3" width="1" height="21" fill="#a0a0a0"/><path d="M355.2 16.2L359.8 20.6" stroke="#b8901c" stroke-width="3" stroke-linecap="round"/><path d="M355.4 15.8L360.2 20.2" stroke="#f3de6e" stroke-width="1.1" stroke-linecap="round"/><circle cx="351" cy="11.8" r="5.4" fill="url(#gm)" stroke="#2f78c8" stroke-width="1.3"/><path d="M347.9 11.9H354.1" stroke="#3f86b4" stroke-width="1.8"/><path d="M351 8.8V15" stroke="#3f86b4" stroke-width="1.8"/><path d="M383.2 16.2L387.8 20.6" stroke="#b8901c" stroke-width="3" stroke-linecap="round"/><path d="M383.4 15.8L388.2 20.2" stroke="#f3de6e" stroke-width="1.1" stroke-linecap="round"/><circle cx="379" cy="11.8" r="5.4" fill="url(#gm)" stroke="#2f78c8" stroke-width="1.3"/><path d="M375.9 11.9H382.1" stroke="#3f86b4" stroke-width="1.8"/><defs><linearGradient id="tg" x1="0" y1="0" x2="1" y2="0"><stop offset="0" stop-color="#4ab418"/><stop offset="1" stop-color="#2f9408"/></linearGradient><linearGradient id="tb" x1="0" y1="0" x2="1" y2="0"><stop offset="0" stop-color="#4a7cec"/><stop offset="1" stop-color="#1440c0"/></linearGradient></defs><rect x="401" y="6.1" width="7.9" height="7.8" rx="0.8" fill="url(#tg)"/><rect x="402" y="7.1" width="1" height="1" fill="#fff"/><path d="M402 12.899999999999999V9.7a0.6 0.6 0 0 1 0.6 -0.6H407.3a0.6 0.6 0 0 1 0.6 0.6V12.899999999999999H406.9V12.2H403V12.899999999999999Z" fill="#fff"/><rect x="403" y="10.1" width="3.9" height="1" fill="#9fd880"/><rect x="409" y="6.1" width="7.9" height="7.8" rx="0.8" fill="url(#tb)"/><rect x="410" y="7.1" width="1" height="1" fill="#fff"/><path d="M410 12.899999999999999V9.7a0.6 0.6 0 0 1 0.6 -0.6H415.3a0.6 0.6 0 0 1 0.6 0.6V12.899999999999999H414.9V12.2H411V12.899999999999999Z" fill="#fff"/><rect x="411" y="10.1" width="3.9" height="1" fill="#8aa8f0"/><rect x="401" y="14" width="7.9" height="7.8" rx="0.8" fill="url(#tb)"/><rect x="402" y="15" width="1" height="1" fill="#fff"/><path d="M402 20.8V17.6a0.6 0.6 0 0 1 0.6 -0.6H407.3a0.6 0.6 0 0 1 0.6 0.6V20.8H406.9V20.1H403V20.8Z" fill="#fff"/><rect x="403" y="18" width="3.9" height="1" fill="#8aa8f0"/><rect x="409" y="14" width="7.9" height="7.8" rx="0.8" fill="url(#tg)"/><rect x="410" y="15" width="1" height="1" fill="#fff"/><path d="M410 20.8V17.6a0.6 0.6 0 0 1 0.6 -0.6H415.3a0.6 0.6 0 0 1 0.6 0.6V20.8H414.9V20.1H411V20.8Z" fill="#fff"/><rect x="411" y="18" width="3.9" height="1" fill="#9fd880"/><rect x="426" y="3" width="1" height="21" fill="#a0a0a0"/><g shape-rendering="crispEdges"><rect x="431" y="2" width="26" height="23" fill="url(#dith)"/><rect x="431" y="2" width="26" height="1" fill="#a0a0a0"/><rect x="431" y="2" width="1" height="22" fill="#a0a0a0"/><rect x="431" y="24" width="26" height="1" fill="#fff"/><rect x="456" y="2" width="1" height="23" fill="#fff"/></g><g stroke="#4d4d4d" stroke-width="1.05" fill="none" shape-rendering="geometricPrecision" stroke-linejoin="round"><path d="M439.5 8.2V22M437.0 19.5H450.7"/><path d="M438.0 9.7L439.5 8.2L441.0 9.7M449.3 18L450.8 19.5L449.3 21"/></g><polygon points="444.4,10.2 448,13.5 444.4,16.8" fill="#7ff08f" stroke="#0a9a2a" stroke-width="1"/><g shape-rendering="crispEdges"><rect x="459" y="2" width="26" height="23" fill="url(#dith)"/><rect x="459" y="2" width="26" height="1" fill="#a0a0a0"/><rect x="459" y="2" width="1" height="22" fill="#a0a0a0"/><rect x="459" y="24" width="26" height="1" fill="#fff"/><rect x="484" y="2" width="1" height="23" fill="#fff"/></g><g stroke="#4d4d4d" stroke-width="1.05" fill="none" shape-rendering="geometricPrecision" stroke-linejoin="round"><path d="M467.5 8.2V22M465.0 19.5H478.7"/><path d="M466.0 9.7L467.5 8.2L469.0 9.7M477.3 18L478.8 19.5L477.3 21"/></g><path d="M473.5 7.8V17.8" stroke="#1f6f9f" stroke-width="1.3"/><path d="M479 13.5H475M476.8 11.6L474.6 13.5L476.8 15.4" stroke="#d0421a" stroke-width="1.2" fill="none"/><rect x="488" y="3" width="1" height="21" fill="#a0a0a0"/><path d="M499.4 6.2h7l3.7 3.6v9.2a0.8 0.8 0 0 1 -0.8 0.8h-9.9a0.8 0.8 0 0 1 -0.8 -0.8v-12a0.8 0.8 0 0 1 0.8 -0.8z" fill="#fff" stroke="#6e6e6e" stroke-width="1"/><path d="M506.4 6.2v3.6h3.7z" fill="#fff" stroke="#6e6e6e" stroke-width="0.9"/><path d="M503 9.4c-1.7 0-1.3 2.2-1.3 3.4c0 1-0.5 1.1-0.9 1.1c0.4 0 0.9 0.2 0.9 1.1c0 1.3-0.3 3.2 1.3 3.2" stroke="#6a5a3a" stroke-width="0.9" fill="none"/><path d="M506.3 12h4.1v3.9h3.9v3.7h-3.9v4.1h-4.1v-4.1h-4v-3.7h4z" fill="url(#gp)" stroke="#0a840a" stroke-width="0.9" stroke-linejoin="round"/><polygon points="520,13 525.6,13 522.8,16" fill="#000" shape-rendering="geometricPrecision"/><circle cx="544.1" cy="14" r="6.7" fill="url(#gf)" stroke="url(#gk)" stroke-width="2.8"/><circle cx="544.1" cy="14" r="8.1" fill="none" stroke="#0e4aa0" stroke-width="0.5"/><circle cx="544.1" cy="14" r="5.2" fill="none" stroke="#5a5a5a" stroke-width="0.5" stroke-dasharray="0.5 2.22"/><path d="M544 10.3V14L546.8 15" stroke="#1a1a1a" stroke-width="1.1" fill="none"/><path d="M544 16.6v1.4" stroke="#4a90e0" stroke-width="0.9"/><polygon points="558.8,13 564.4,13 561.5999999999999,16" fill="#000" shape-rendering="geometricPrecision"/><rect x="575.5" y="7.3" width="15.2" height="13.2" fill="#fff" stroke="#2f6fd8" stroke-width="1.3"/><rect x="575.5" y="7.3" width="15.2" height="2.2" fill="#6fa3ee"/><path d="M575.5 14.2H590.7" stroke="#2f6fd8" stroke-width="1"/><path d="M577.5 13L580 11.8L582.2 12.4L584.3 11.3L586.3 12L588.8 11" stroke="#b0200f" stroke-width="1.2" fill="none"/><path d="M577.5 18.3L580 17.4L582 18L584.5 16.2L586.5 17.8L588.8 18.4" stroke="#1a9a2a" stroke-width="1.2" fill="none"/><polygon points="597.7,13 603.3000000000001,13 600.5,16" fill="#000" shape-rendering="geometricPrecision"/><rect x="609" y="1" width="1" height="25" fill="#a0a0a0"/><rect x="610" y="1" width="1" height="25" fill="#fff"/><rect x="613" y="4" width="3" height="1" fill="#a8a8a8"/><rect x="613" y="6" width="3" height="1" fill="#a8a8a8"/><rect x="613" y="8" width="3" height="1" fill="#a8a8a8"/><rect x="613" y="10" width="3" height="1" fill="#a8a8a8"/><rect x="613" y="12" width="3" height="1" fill="#a8a8a8"/><rect x="613" y="14" width="3" height="1" fill="#a8a8a8"/><rect x="613" y="16" width="3" height="1" fill="#a8a8a8"/><rect x="613" y="18" width="3" height="1" fill="#a8a8a8"/><rect x="613" y="20" width="3" height="1" fill="#a8a8a8"/><rect x="613" y="22" width="3" height="1" fill="#a8a8a8"/><g shape-rendering="crispEdges"><rect x="619" y="2" width="26" height="23" fill="url(#dith)"/><rect x="619" y="2" width="26" height="1" fill="#a0a0a0"/><rect x="619" y="2" width="1" height="22" fill="#a0a0a0"/><rect x="619" y="24" width="26" height="1" fill="#fff"/><rect x="644" y="2" width="1" height="23" fill="#fff"/></g><path d="M627 6.8V18.6L630 16.2L632.4 21L634.2 20.1L631.9 15.4L635.2 15Z" fill="#4a4a4a"/><path d="M659.5 7V12.6M659.5 16.2V22M652 14.4H657.7M661.3 14.4H667" stroke="#4d4d4d" stroke-width="1.3"/><rect x="659.1" y="14" width="0.9" height="0.9" fill="#4d4d4d"/><rect x="676" y="3" width="1" height="21" fill="#a0a0a0"/><path d="M693.5 7.8V21" stroke="#4d4d4d" stroke-width="1.3"/><path d="M716 14.4H728" stroke="#4d4d4d" stroke-width="1.3"/><path d="M743.8 21L756 8.9" stroke="#4d4d4d" stroke-width="1.3"/><g stroke="#4d4d4d" fill="none"><path d="M769.5 15.7L778 7.9M770.7 19.7L783.9 8.4M774.8 20.8L784.4 12.5" stroke-width="1"/><path d="M772.7 13.3L772.1 20.6M775.7 12.3L775.1 17.6M778.9 10.3L778.3 16.9M781.8 5.9L781.5 13" stroke-width="1.4"/></g><path d="M785 18.7H781.6V22.3H785M781.6 20.5H784.5" stroke="#4d4d4d" stroke-width="1.25" fill="none"/><rect x="799" y="7" width="1" height="1" fill="#4d4d4d" shape-rendering="crispEdges"/><rect x="801" y="7" width="1" height="1" fill="#4d4d4d" shape-rendering="crispEdges"/><rect x="803" y="7" width="1" height="1" fill="#4d4d4d" shape-rendering="crispEdges"/><rect x="805" y="7" width="1" height="1" fill="#4d4d4d" shape-rendering="crispEdges"/><rect x="807" y="7" width="1" height="1" fill="#4d4d4d" shape-rendering="crispEdges"/><rect x="809" y="7" width="1" height="1" fill="#4d4d4d" shape-rendering="crispEdges"/><rect x="811" y="7" width="1" height="1" fill="#4d4d4d" shape-rendering="crispEdges"/><rect x="799" y="10" width="1" height="1" fill="#4d4d4d" shape-rendering="crispEdges"/><rect x="801" y="10" width="1" height="1" fill="#4d4d4d" shape-rendering="crispEdges"/><rect x="803" y="10" width="1" height="1" fill="#4d4d4d" shape-rendering="crispEdges"/><rect x="805" y="10" width="1" height="1" fill="#4d4d4d" shape-rendering="crispEdges"/><rect x="807" y="10" width="1" height="1" fill="#4d4d4d" shape-rendering="crispEdges"/><rect x="809" y="10" width="1" height="1" fill="#4d4d4d" shape-rendering="crispEdges"/><rect x="811" y="10" width="1" height="1" fill="#4d4d4d" shape-rendering="crispEdges"/><rect x="799" y="14" width="1" height="1" fill="#4d4d4d" shape-rendering="crispEdges"/><rect x="801" y="14" width="1" height="1" fill="#4d4d4d" shape-rendering="crispEdges"/><rect x="803" y="14" width="1" height="1" fill="#4d4d4d" shape-rendering="crispEdges"/><rect x="805" y="14" width="1" height="1" fill="#4d4d4d" shape-rendering="crispEdges"/><rect x="807" y="14" width="1" height="1" fill="#4d4d4d" shape-rendering="crispEdges"/><rect x="809" y="14" width="1" height="1" fill="#4d4d4d" shape-rendering="crispEdges"/><rect x="811" y="14" width="1" height="1" fill="#4d4d4d" shape-rendering="crispEdges"/><rect x="799" y="18" width="1" height="1" fill="#4d4d4d" shape-rendering="crispEdges"/><rect x="801" y="18" width="1" height="1" fill="#4d4d4d" shape-rendering="crispEdges"/><rect x="803" y="18" width="1" height="1" fill="#4d4d4d" shape-rendering="crispEdges"/><rect x="805" y="18" width="1" height="1" fill="#4d4d4d" shape-rendering="crispEdges"/><rect x="807" y="18" width="1" height="1" fill="#4d4d4d" shape-rendering="crispEdges"/><path d="M812.9 18.7H809.6V22.9M809.6 20.6H812.4" stroke="#4d4d4d" stroke-width="1.25" fill="none"/><path d="M830.8 18.8L834 10.6L837.2 18.8M832 16H836" stroke="#4d4d4d" stroke-width="1.5" fill="none" stroke-linejoin="round"/><rect x="856" y="8" width="1" height="1" fill="#4d4d4d" shape-rendering="crispEdges"/><rect x="858" y="8" width="1" height="1" fill="#4d4d4d" shape-rendering="crispEdges"/><rect x="860" y="8" width="1" height="1" fill="#4d4d4d" shape-rendering="crispEdges"/><rect x="862" y="8" width="1" height="1" fill="#4d4d4d" shape-rendering="crispEdges"/><rect x="864" y="8" width="1" height="1" fill="#4d4d4d" shape-rendering="crispEdges"/><rect x="866" y="8" width="1" height="1" fill="#4d4d4d" shape-rendering="crispEdges"/><rect x="868" y="8" width="1" height="1" fill="#4d4d4d" shape-rendering="crispEdges"/><rect x="856" y="20" width="1" height="1" fill="#4d4d4d" shape-rendering="crispEdges"/><rect x="858" y="20" width="1" height="1" fill="#4d4d4d" shape-rendering="crispEdges"/><rect x="860" y="20" width="1" height="1" fill="#4d4d4d" shape-rendering="crispEdges"/><rect x="862" y="20" width="1" height="1" fill="#4d4d4d" shape-rendering="crispEdges"/><rect x="864" y="20" width="1" height="1" fill="#4d4d4d" shape-rendering="crispEdges"/><rect x="866" y="20" width="1" height="1" fill="#4d4d4d" shape-rendering="crispEdges"/><rect x="868" y="20" width="1" height="1" fill="#4d4d4d" shape-rendering="crispEdges"/><rect x="856" y="8" width="1" height="1" fill="#4d4d4d" shape-rendering="crispEdges"/><rect x="856" y="10" width="1" height="1" fill="#4d4d4d" shape-rendering="crispEdges"/><rect x="856" y="12" width="1" height="1" fill="#4d4d4d" shape-rendering="crispEdges"/><rect x="856" y="14" width="1" height="1" fill="#4d4d4d" shape-rendering="crispEdges"/><rect x="856" y="16" width="1" height="1" fill="#4d4d4d" shape-rendering="crispEdges"/><rect x="856" y="18" width="1" height="1" fill="#4d4d4d" shape-rendering="crispEdges"/><rect x="856" y="20" width="1" height="1" fill="#4d4d4d" shape-rendering="crispEdges"/><rect x="868" y="8" width="1" height="1" fill="#4d4d4d" shape-rendering="crispEdges"/><rect x="868" y="10" width="1" height="1" fill="#4d4d4d" shape-rendering="crispEdges"/><rect x="868" y="12" width="1" height="1" fill="#4d4d4d" shape-rendering="crispEdges"/><rect x="868" y="14" width="1" height="1" fill="#4d4d4d" shape-rendering="crispEdges"/><rect x="868" y="16" width="1" height="1" fill="#4d4d4d" shape-rendering="crispEdges"/><rect x="868" y="18" width="1" height="1" fill="#4d4d4d" shape-rendering="crispEdges"/><rect x="868" y="20" width="1" height="1" fill="#4d4d4d" shape-rendering="crispEdges"/><rect x="855" y="7" width="2" height="2" fill="#4d4d4d"/><path d="M859.4 11.6H865.8M862.6 11.6V19.2" stroke="#4d4d4d" stroke-width="1.7" fill="none"/><polygon points="886.6,7.6 890.6,11 886.6,13.6 882.8,11" fill="#4d4d4d"/><polygon points="893.6,21.2 897.6,17.8 893.6,15.2 889.8,17.8" fill="#4d4d4d"/><path d="M885.3 15.4L887.9 18L892.3 11.6" stroke="#4d4d4d" stroke-width="1.4" fill="none"/><polygon points="903.7,13 909.3000000000001,13 906.5,16" fill="#000" shape-rendering="geometricPrecision"/><rect x="915" y="1" width="1" height="25" fill="#a0a0a0"/><rect x="916" y="1" width="1" height="25" fill="#fff"/><rect x="919" y="4" width="3" height="1" fill="#a8a8a8"/><rect x="919" y="6" width="3" height="1" fill="#a8a8a8"/><rect x="919" y="8" width="3" height="1" fill="#a8a8a8"/><rect x="919" y="10" width="3" height="1" fill="#a8a8a8"/><rect x="919" y="12" width="3" height="1" fill="#a8a8a8"/><rect x="919" y="14" width="3" height="1" fill="#a8a8a8"/><rect x="919" y="16" width="3" height="1" fill="#a8a8a8"/><rect x="919" y="18" width="3" height="1" fill="#a8a8a8"/><rect x="919" y="20" width="3" height="1" fill="#a8a8a8"/><rect x="919" y="22" width="3" height="1" fill="#a8a8a8"/><g shape-rendering="crispEdges"><rect x="1065" y="2" width="26" height="23" fill="url(#dith)"/><rect x="1065" y="2" width="26" height="1" fill="#a0a0a0"/><rect x="1065" y="2" width="1" height="22" fill="#a0a0a0"/><rect x="1065" y="24" width="26" height="1" fill="#fff"/><rect x="1090" y="2" width="1" height="23" fill="#fff"/></g><g opacity="0.99"><text x="930.7" y="18" font-size="9.8" fill="#3a3a3a" textLength="12.4" lengthAdjust="spacingAndGlyphs">M1</text><text x="958.6" y="18" font-size="9.8" fill="#3a3a3a" textLength="12.6" lengthAdjust="spacingAndGlyphs">M5</text><text x="984.8" y="18" font-size="9.8" fill="#3a3a3a" textLength="17.2" lengthAdjust="spacingAndGlyphs">M15</text><text x="1012.7" y="18" font-size="9.8" fill="#3a3a3a" textLength="17.5" lengthAdjust="spacingAndGlyphs">M30</text><text x="1043.6" y="18" font-size="9.8" fill="#3a3a3a" textLength="11.4" lengthAdjust="spacingAndGlyphs">H1</text><text x="1070.3" y="18" font-size="9.8" fill="#3a3a3a" textLength="12.9" lengthAdjust="spacingAndGlyphs">H4</text><text x="1099.8" y="18" font-size="9.8" fill="#3a3a3a" textLength="11.2" lengthAdjust="spacingAndGlyphs">D1</text><text x="1127.3" y="18" font-size="9.8" fill="#3a3a3a" textLength="14.1" lengthAdjust="spacingAndGlyphs">W1</text><text x="1153.8" y="18" font-size="9.8" fill="#3a3a3a" textLength="14.4" lengthAdjust="spacingAndGlyphs">MN</text></g><rect x="1176" y="1" width="1" height="25" fill="#a0a0a0"/><rect x="1177" y="1" width="1" height="25" fill="#fff"/><circle cx="1646.5" cy="11.3" r="3.7" fill="#f6f6f6" stroke="#2a55cc" stroke-width="1.3"/><path d="M1643.6 14.2L1638.8 19" stroke="#2a55cc" stroke-width="2.2"/><ellipse cx="1668.6" cy="16.2" rx="5.6" ry="4.6" fill="#e6e6ea" stroke="#b0b0b8" stroke-width="0.8"/><path d="M1666 20l0.6 2.6l2.4-2.2z" fill="#d8d8dc" stroke="#a8a8b0" stroke-width="0.6"/><circle cx="1677.7" cy="11.4" r="8.3" fill="#dc3018"/><text x="1674.2" y="16" font-size="12.5" fill="#fff">1</text></g>
</svg>
</body></html>
